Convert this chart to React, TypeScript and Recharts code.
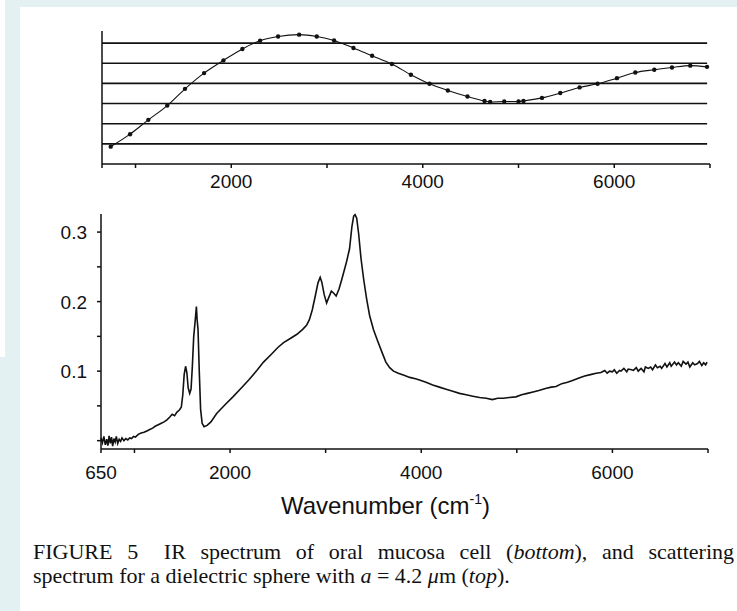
import React from "react";
import { LineChart, Line, XAxis, YAxis, ReferenceLine } from "recharts";

// ---------- top panel: scattering spectrum (dielectric sphere) ----------
const TOP_WN = [741, 943, 1134, 1332, 1517, 1716, 1918, 2116, 2301, 2489, 2709, 2893, 3074, 3276, 3471, 3677, 3876, 4070, 4262, 4467, 4645, 4704, 4851, 5000, 5052, 5245, 5436, 5638, 5826, 6028, 6220, 6418, 6603, 6794, 6969];
const TOP_VAL = [0.86, 1.48, 2.19, 2.9, 3.73, 4.51, 5.14, 5.71, 6.12, 6.33, 6.42, 6.33, 6.13, 5.76, 5.37, 4.96, 4.43, 3.98, 3.65, 3.35, 3.13, 3.08, 3.1, 3.1, 3.13, 3.28, 3.52, 3.8, 3.98, 4.26, 4.54, 4.68, 4.79, 4.88, 4.82];
const TOP_GRID_LEVELS = [1, 2, 3, 4, 5, 6];

// ---------- bottom panel: IR spectrum of oral mucosa cell ----------
const BOT_WN = [650, 665, 680, 695, 710, 722, 735, 748, 760, 772, 785, 798, 810, 825, 840, 855, 870, 890, 910, 930, 950, 970, 990, 1010, 1040, 1070, 1100, 1130, 1160, 1190, 1220, 1250, 1280, 1310, 1340, 1370, 1395, 1420, 1445, 1470, 1490, 1505, 1520, 1535, 1548, 1562, 1578, 1592, 1605, 1620, 1635, 1648, 1655, 1665, 1678, 1692, 1708, 1728, 1760, 1800, 1860, 1950, 2030, 2120, 2200, 2280, 2350, 2430, 2500, 2560, 2630, 2700, 2760, 2800, 2830, 2860, 2890, 2920, 2943, 2960, 2985, 3010, 3030, 3060, 3085, 3110, 3140, 3165, 3195, 3220, 3250, 3275, 3293, 3308, 3325, 3345, 3370, 3400, 3430, 3460, 3500, 3545, 3590, 3630, 3670, 3710, 3760, 3820, 3880, 3940, 3990, 4050, 4120, 4190, 4260, 4330, 4400, 4470, 4540, 4610, 4680, 4745, 4800, 4860, 4920, 4990, 5050, 5110, 5170, 5230, 5300, 5360, 5410, 5470, 5530, 5590, 5650, 5710, 5770, 5830, 5880, 5920, 5945, 5970, 6000, 6020, 6045, 6075, 6090, 6120, 6150, 6165, 6200, 6220, 6250, 6270, 6300, 6330, 6345, 6375, 6400, 6420, 6450, 6470, 6500, 6515, 6550, 6570, 6600, 6615, 6650, 6670, 6690, 6720, 6740, 6770, 6790, 6810, 6840, 6860, 6890, 6910, 6935, 6955, 6975, 6990];
const BOT_ABS = [0.004, -0.003, 0.006, -0.006, 0.002, -0.007, 0.007, -0.004, 0.005, -0.008, 0.003, -0.002, 0.006, -0.004, 0.002, -0.001, 0.004, 0.0, 0.003, 0.001, 0.004, 0.003, 0.006, 0.005, 0.009, 0.011, 0.012, 0.014, 0.016, 0.018, 0.021, 0.023, 0.025, 0.027, 0.03, 0.034, 0.038, 0.036, 0.041, 0.044, 0.048, 0.065, 0.095, 0.107, 0.098, 0.076, 0.068, 0.074, 0.105, 0.15, 0.172, 0.193, 0.175, 0.16, 0.1, 0.045, 0.025, 0.02, 0.022, 0.027, 0.039, 0.052, 0.063, 0.076, 0.088, 0.101, 0.113, 0.124, 0.134, 0.141, 0.147, 0.153, 0.16, 0.166, 0.174, 0.188, 0.207, 0.227, 0.235, 0.228, 0.21, 0.198, 0.205, 0.215, 0.212, 0.208, 0.218, 0.23, 0.245, 0.258, 0.276, 0.308, 0.323, 0.325, 0.32, 0.298, 0.262, 0.23, 0.203, 0.18, 0.16, 0.143, 0.127, 0.113, 0.105, 0.1, 0.097, 0.094, 0.091, 0.089, 0.087, 0.084, 0.08, 0.077, 0.074, 0.071, 0.068, 0.066, 0.064, 0.062, 0.061, 0.059, 0.061, 0.061, 0.062, 0.063, 0.066, 0.068, 0.07, 0.072, 0.075, 0.077, 0.078, 0.082, 0.084, 0.087, 0.09, 0.093, 0.095, 0.097, 0.098, 0.101, 0.097, 0.1, 0.099, 0.102, 0.097, 0.101, 0.1, 0.104, 0.099, 0.103, 0.102, 0.101, 0.105, 0.1, 0.104, 0.099, 0.106, 0.104, 0.106, 0.102, 0.109, 0.105, 0.107, 0.104, 0.111, 0.106, 0.112, 0.107, 0.113, 0.109, 0.112, 0.107, 0.114, 0.11, 0.113, 0.106, 0.112, 0.109, 0.111, 0.114, 0.108, 0.112, 0.109, 0.113, 0.108, 0.111, 0.11];

// ---------- axis ticks / labels ----------
const X_TICKS = [650, 1000, 2000, 3000, 4000, 5000, 6000, 7000];
const TOP_X_LABELS = [2000, 4000, 6000];
const BOT_X_LABELS = [650, 2000, 4000, 6000];
const BOT_Y_TICKS = [0, 0.05, 0.1, 0.15, 0.2, 0.25, 0.3];
const BOT_Y_LABELS = [0.1, 0.2, 0.3];
const X_TITLE = "Wavenumber (cm";
const X_TITLE_SUP = "-1";
const CAPTION_1 = ["FIGURE 5\u2002 IR spectrum of oral mucosa cell (", "bottom", "), and scattering"];
const CAPTION_2 = ["spectrum for a dielectric sphere with ", "a", " = 4.2 ", "μ", "m (", "top", ")."];

const topData = TOP_WN.map((w, i) => ({ w, v: TOP_VAL[i] }));
const botData = BOT_WN.map((w, i) => ({ w, a: BOT_ABS[i] }));

const BG = "#e3f1f3";
const SANS = "'Liberation Sans', Arial, Helvetica, sans-serif";
const SERIF = "'Liberation Serif', 'Times New Roman', serif";
const INK = "#111";
const TICK_FS = 19;

const TopXTick = (props: any) => {
  const { x, y, payload } = props;
  if (!TOP_X_LABELS.includes(payload.value)) return <g />;
  return (
    <text x={x} y={y + 18} textAnchor="middle" fontSize={TICK_FS} fill={INK} fontFamily={SANS}>
      {payload.value}
    </text>
  );
};

const BotXTick = (props: any) => {
  const { x, y, payload } = props;
  if (!BOT_X_LABELS.includes(payload.value)) return <g />;
  return (
    <text x={x} y={y + 24} textAnchor="middle" fontSize={TICK_FS} fill={INK} fontFamily={SANS}>
      {payload.value}
    </text>
  );
};

const BotYTick = (props: any) => {
  const { x, y, payload } = props;
  const match = BOT_Y_LABELS.find((l) => Math.abs(l - payload.value) < 1e-9);
  if (match === undefined) return <g />;
  return (
    <text x={x - 8} y={y + 7} textAnchor="end" fontSize={TICK_FS} fill={INK} fontFamily={SANS}>
      {match.toFixed(1)}
    </text>
  );
};

export default function App() {
  return (
    <div style={{ position: "absolute", left: 0, top: 0, width: 737, height: 611, background: "#fff", overflow: "hidden" }}>
      <div style={{ position: "absolute", left: 5, top: 0, width: 732, height: 7, background: BG }} />
      <div style={{ position: "absolute", left: 5, top: 0, width: 15, height: 611, background: BG }} />
      <div style={{ position: "absolute", left: 0, top: 357, width: 5, height: 254, background: BG }} />

      <div style={{ position: "absolute", left: 0, top: 0 }}>
        <LineChart width={737} height={200} data={topData} margin={{ top: 31, right: 27, bottom: 6, left: 72 }}>
          <XAxis
            dataKey="w"
            type="number"
            domain={[650, 7000]}
            ticks={X_TICKS}
            interval={0}
            height={30}
            tickSize={4}
            axisLine={{ stroke: INK, strokeWidth: 1.5 }}
            tickLine={{ stroke: INK, strokeWidth: 1.5 }}
            tick={<TopXTick />}
          />
          <YAxis
            type="number"
            domain={[0, 6.6]}
            width={30}
            tick={false}
            tickLine={false}
            axisLine={{ stroke: INK, strokeWidth: 1.5 }}
          />
          {TOP_GRID_LEVELS.map((lv) => (
            <ReferenceLine
              key={lv}
              segment={[{ x: 650, y: lv }, { x: 6970, y: lv }]}
              stroke={INK}
              strokeWidth={1.6}
            />
          ))}
          <Line
            dataKey="v"
            type="monotone"
            stroke={INK}
            strokeWidth={1.1}
            isAnimationActive={false}
            dot={{ r: 2.2, fill: INK, stroke: "none" }}
            activeDot={false}
          />
        </LineChart>
      </div>

      <div style={{ position: "absolute", left: 0, top: 200 }}>
        <LineChart width={737} height={300} data={botData} margin={{ top: 14, right: 29, bottom: 11, left: 51 }}>
          <XAxis
            dataKey="w"
            type="number"
            domain={[650, 7000]}
            ticks={X_TICKS}
            interval={0}
            height={40}
            tickSize={4}
            axisLine={{ stroke: INK, strokeWidth: 1.5 }}
            tickLine={{ stroke: INK, strokeWidth: 1.5 }}
            tick={<BotXTick />}
          />
          <YAxis
            type="number"
            domain={[-0.012, 0.326]}
            ticks={BOT_Y_TICKS}
            interval={0}
            width={50}
            tickSize={4}
            axisLine={{ stroke: INK, strokeWidth: 1.5 }}
            tickLine={{ stroke: INK, strokeWidth: 1.5 }}
            tick={<BotYTick />}
          />
          <Line
            dataKey="a"
            type="linear"
            stroke={INK}
            strokeWidth={1.6}
            isAnimationActive={false}
            dot={false}
            activeDot={false}
          />
        </LineChart>
      </div>

      <div
        style={{
          position: "absolute",
          left: 281,
          top: 492,
          whiteSpace: "nowrap",
          fontFamily: SANS,
          fontSize: 24,
          color: INK,
          lineHeight: "28px",
        }}
      >
        {X_TITLE}
        <span style={{ fontSize: 14, position: "relative", top: -10 }}>{X_TITLE_SUP}</span>)
      </div>

      <div
        style={{
          position: "absolute",
          left: 33,
          width: 701,
          top: 540,
          fontFamily: SERIF,
          fontSize: 22,
          lineHeight: "24px",
          color: INK,
        }}
      >
        <div style={{ textAlign: "justify", textAlignLast: "justify", whiteSpace: "nowrap" }}>
          {CAPTION_1[0]}
          <i>{CAPTION_1[1]}</i>
          {CAPTION_1[2]}
        </div>
        <div>
          {CAPTION_2[0]}
          <i>{CAPTION_2[1]}</i>
          {CAPTION_2[2]}
          <i>{CAPTION_2[3]}</i>
          {CAPTION_2[4]}
          <i>{CAPTION_2[5]}</i>
          {CAPTION_2[6]}
        </div>
      </div>
    </div>
  );
}
